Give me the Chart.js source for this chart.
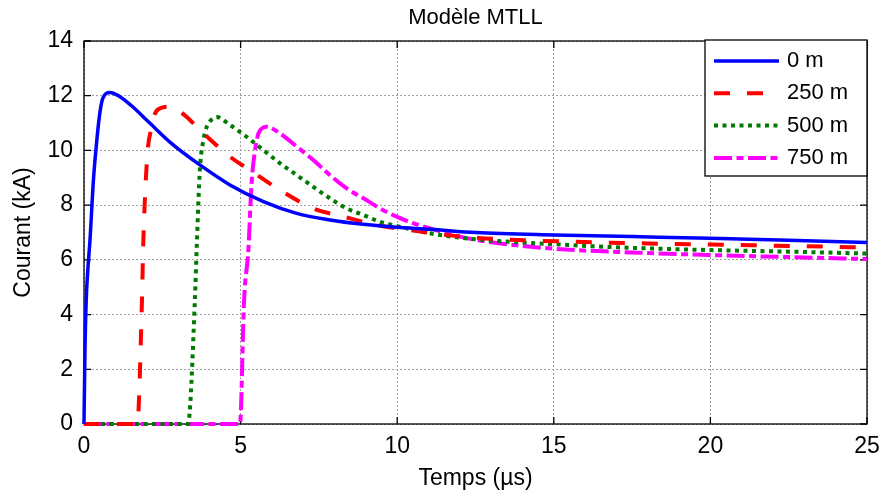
<!DOCTYPE html>
<html>
<head>
<meta charset="utf-8">
<title>Modèle MTLL</title>
<script src="https://cdn.jsdelivr.net/npm/chart.js@4.4.0/dist/chart.umd.min.js"></script>
<style>
  html, body { margin: 0; padding: 0; background: #fff; }
</style>
</head>
<body>
<canvas id="courantChart" width="896" height="497"></canvas>
<script>
// valeurs : temps en µs, courant en kA
var t0   = [0, 0.03, 0.07, 0.12, 0.19, 0.3, 0.42, 0.51, 0.6, 0.83, 1.1, 1.5, 2.1, 2.8, 3.7, 4.66, 5.73, 6.79, 7.85, 8.92, 9.98, 11.05, 12.5, 15, 17.5, 20, 22.5, 25];
var i0   = [0, 2.6, 4.5, 5.6, 6.7, 8.9, 10.5, 11.4, 11.9, 12.12, 12.0, 11.65, 11.0, 10.25, 9.47, 8.74, 8.13, 7.7, 7.46, 7.3, 7.19, 7.12, 7.0, 6.91, 6.85, 6.79, 6.72, 6.63];

var t250 = [0, 1.7, 1.85, 1.89, 2.02, 2.15, 2.27, 2.45, 2.75, 3.2, 3.7, 4.66, 5.3, 6.26, 7.32, 8.28, 9.35, 10.51, 11.5, 12.6, 14, 16, 18, 20, 22.5, 25];
var i250 = [0, 0, 4.5, 6.5, 9.8, 10.8, 11.35, 11.55, 11.6, 11.3, 10.75, 9.77, 9.28, 8.55, 7.88, 7.58, 7.27, 7.07, 6.92, 6.8, 6.72, 6.65, 6.6, 6.56, 6.51, 6.45];

var t500 = [0, 3.32, 3.54, 3.6, 3.7, 3.8, 3.92, 4.05, 4.24, 4.66, 5.19, 5.73, 6.26, 6.79, 7.32, 7.85, 8.39, 8.92, 9.45, 9.98, 11.05, 12.5, 14.56, 17, 19.9, 22.5, 25];
var i500 = [0, 0, 4.5, 6.5, 9.3, 10.3, 10.87, 11.1, 11.22, 10.93, 10.5, 10.01, 9.53, 9.1, 8.67, 8.25, 7.88, 7.64, 7.39, 7.24, 6.97, 6.75, 6.6, 6.46, 6.36, 6.3, 6.23];

var t750 = [0, 4.98, 5.11, 5.25, 5.35, 5.46, 5.57, 5.7, 5.83, 6.26, 6.79, 7.32, 7.85, 8.39, 8.92, 9.45, 9.98, 10.51, 11.05, 12, 12.96, 15.1, 17.5, 19.9, 22.5, 25];
var i750 = [0, 0, 4.5, 6.4, 8.8, 10.0, 10.62, 10.82, 10.87, 10.62, 10.14, 9.65, 9.1, 8.61, 8.25, 7.88, 7.58, 7.34, 7.15, 6.85, 6.65, 6.4, 6.27, 6.18, 6.1, 6.03];

var noms   = ['0 m', '250 m', '500 m', '750 m'];
var titre  = 'Modèle MTLL';
var xTicks = [0, 5, 10, 15, 20, 25];
var yTicks = [0, 2, 4, 6, 8, 10, 12, 14];

function points(t, v) {
    return t.map(function (x, k) { return { x: x, y: v[k] }; });
}

// cadre noir + petites graduations vers l'intérieur (style matlab)
var cadre = {
    id: 'cadre',
    beforeDatasetsDraw: function (chart) {
        var a = chart.chartArea, c = chart.ctx;
        var sx = chart.scales.x, sy = chart.scales.y;
        c.save();
        c.strokeStyle = '#000';
        c.lineWidth = 1.3;
        c.strokeRect(a.left, a.top, a.right - a.left, a.bottom - a.top);
        c.beginPath();
        xTicks.forEach(function (v) {
            var p = sx.getPixelForValue(v);
            c.moveTo(p, a.bottom); c.lineTo(p, a.bottom - 7);
            c.moveTo(p, a.top); c.lineTo(p, a.top + 7);
        });
        yTicks.forEach(function (v) {
            var p = sy.getPixelForValue(v);
            c.moveTo(a.left, p); c.lineTo(a.left + 7, p);
            c.moveTo(a.right, p); c.lineTo(a.right - 7, p);
        });
        c.stroke();
        // titre centré sur la zone du tracé
        c.fillStyle = '#000';
        c.font = '22px "Liberation Sans", Arial, sans-serif';
        c.textAlign = 'center';
        c.textBaseline = 'middle';
        c.fillText(titre, (a.left + a.right) / 2, 18);
        c.restore();
    }
};

// légende encadrée en haut à droite
var legende = {
    id: 'legende',
    afterDatasetsDraw: function (chart) {
        var a = chart.chartArea, c = chart.ctx;
        var w = 162, h = 136, x0 = a.right - w, y0 = a.top - 1;
        c.save();
        c.fillStyle = '#fff';
        c.fillRect(x0, y0, w, h);
        c.strokeStyle = '#000';
        c.lineWidth = 1.3;
        c.strokeRect(x0, y0, w, h);
        c.font = '22px "Liberation Sans", Arial, sans-serif';
        c.textBaseline = 'middle';
        chart.data.datasets.forEach(function (ds, k) {
            var y = y0 + 21 + k * 32.3;
            c.strokeStyle = ds.borderColor;
            c.lineWidth = ds.borderWidth;
            c.setLineDash(ds.borderDash || []);
            c.beginPath();
            c.moveTo(x0 + 9, y);
            c.lineTo(x0 + 74, y);
            c.stroke();
            c.setLineDash([]);
            c.fillStyle = '#000';
            c.fillText(ds.label, x0 + 82, y);
        });
        c.restore();
    }
};

Chart.defaults.font.family = '"Liberation Sans", Arial, sans-serif';
Chart.defaults.color = '#000';

var ctx = document.getElementById('courantChart').getContext('2d');
var chart = new Chart(ctx, {
    type: 'line',
    data: {
        datasets: [
            { label: noms[0], data: points(t0, i0), borderColor: '#0000ff', borderWidth: 3.5 },
            { label: noms[1], data: points(t250, i250), borderColor: '#ff0000', borderWidth: 4, borderDash: [16, 17] },
            { label: noms[2], data: points(t500, i500), borderColor: '#007a00', borderWidth: 4, borderDash: [4, 4.5] },
            { label: noms[3], data: points(t750, i750), borderColor: '#ff00ff', borderWidth: 4, borderDash: [18, 4.5, 7, 4.5] }
        ]
    },
    options: {
        responsive: false,
        animation: false,
        layout: { padding: { top: 41, right: 29, bottom: 0, left: 0 } },
        elements: {
            point: { radius: 0 },
            line: { cubicInterpolationMode: 'monotone', fill: false, borderCapStyle: 'butt' }
        },
        datasets: { line: { clip: false } },
        plugins: {
            legend: { display: false },
            tooltip: { enabled: false },
            title: { display: false }
        },
        scales: {
            x: {
                type: 'linear',
                min: 0,
                max: 25,
                afterBuildTicks: function (s) { s.ticks = xTicks.map(function (v) { return { value: v }; }); },
                afterFit: function (s) { s.height = 73; },
                ticks: { font: { size: 23 }, padding: 9, maxRotation: 0 },
                grid: { color: '#a0a0a0', lineWidth: 1, drawTicks: false },
                border: { display: false, dash: [2, 2] },
                title: { display: true, text: 'Temps (µs)', font: { size: 23 }, padding: { top: 0, bottom: 5 } }
            },
            y: {
                min: 0,
                max: 14,
                afterBuildTicks: function (s) { s.ticks = yTicks.map(function (v) { return { value: v }; }); },
                afterFit: function (s) { s.width = 84; },
                ticks: { font: { size: 23 }, padding: 11 },
                grid: { color: '#a0a0a0', lineWidth: 1, drawTicks: false },
                border: { display: false, dash: [2, 2] },
                title: { display: true, text: 'Courant (kA)', font: { size: 23 }, padding: { top: 10, bottom: 0 } }
            }
        }
    },
    plugins: [cadre, legende]
});
</script>
</body>
</html>
